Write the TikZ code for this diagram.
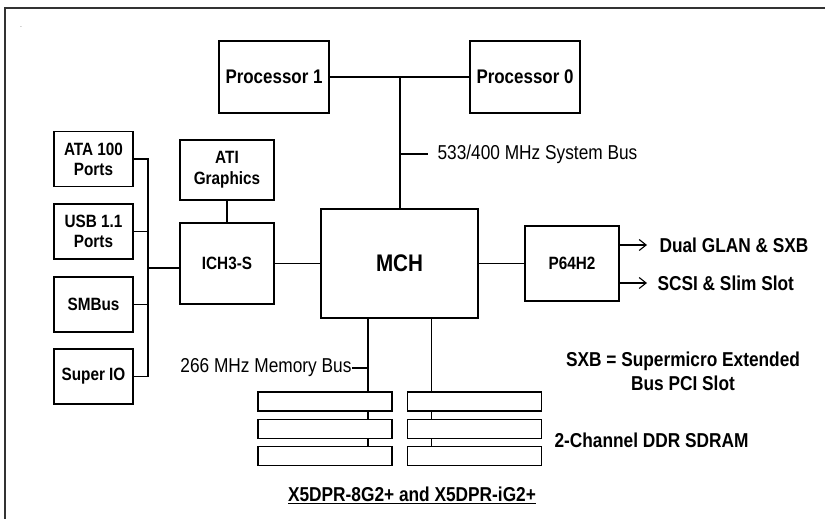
\documentclass[tikz,border=0pt]{standalone}
\usepackage{fontspec}
\setmainfont{Liberation Sans}[FakeStretch=0.86]
\usetikzlibrary{arrows.meta}
\begin{document}
\begin{tikzpicture}[x=1pt,y=-1pt,line width=1.1pt,
  box/.style={draw, inner sep=0pt, align=center, font=\bfseries\fontsize{17.8}{20}\selectfont},
  procbox/.style={box, minimum width=110pt, minimum height=72pt, font=\bfseries\fontsize{19.7}{22}\selectfont},
  sidebox/.style={box, minimum width=79pt, minimum height=55pt},
  dimm/.style={draw, inner sep=0pt, minimum width=134pt, minimum height=19pt},
  lbl/.style={inner sep=0pt, font=\fontsize{20.1}{23}\selectfont},
  blbl/.style={inner sep=0pt, font=\bfseries\fontsize{20.1}{24}\selectfont},
  arr/.style={-{Straight Barb[length=7pt,width=11pt]}}]
\useasboundingbox (0,0) rectangle (825,519);
% frame
\draw[line width=1.3pt, black!80] (5,519) -- (5,8) -- (825,8);
\node[inner sep=0pt, font=\fontsize{6}{6}\selectfont] (dot) at (21,27) {.};
% processors
\node[procbox] (p1) at (274,77) {Processor 1};
\node[procbox] (p0) at (525,77) {Processor 0};
% MCH
\node[box, minimum width=157pt, minimum height=109pt, font=\bfseries\fontsize{24}{26}\selectfont] (mch) at (399.5,263.5) {MCH};
% ICH and ATI
\node[box, minimum width=94pt, minimum height=81pt] (ich) at (227,263.5) {ICH3-S};
\node[box, minimum width=94pt, minimum height=60pt, font=\bfseries\fontsize{17.8}{21}\selectfont] (ati) at (227,170) {ATI\\Graphics};
% P64H2
\node[box, minimum width=94pt, minimum height=75pt] (p64) at (572,263.5) {P64H2};
% side boxes
\node[sidebox] (ata) at (93.5,159) {ATA 100\\Ports};
\node[sidebox] (usb) at (93.5,231.5) {USB 1.1\\Ports};
\node[sidebox] (smb) at (93.5,304.5) {SMBus};
\node[sidebox] (sio) at (93.5,376.5) {Super IO};
% DIMMs
\node[dimm] (dl1) at (325,401.5) {};
\node[dimm] (dl2) at (325,429) {};
\node[dimm] (dl3) at (325,456) {};
\node[dimm] (dr1) at (474.5,401.5) {};
\node[dimm] (dr2) at (474.5,429) {};
\node[dimm] (dr3) at (474.5,456) {};
% labels
\node[lbl, anchor=west] (sbl) at (437,154) {533/400 MHz System Bus};
\node[lbl, anchor=east] (mbl) at (352,368) {266 MHz Memory Bus};
\node[blbl, anchor=west] (glan) at (659,245) {Dual GLAN \& SXB};
\node[blbl, anchor=west] (scsi) at (657,283) {SCSI \& Slim Slot};
\node[blbl, align=center] (sxb) at (683,371) {SXB = Supermicro Extended\\Bus PCI Slot};
\node[blbl, anchor=west] (ddr) at (554,440) {2-Channel DDR SDRAM};
\node[blbl] (title) at (412,495) {\underline{X5DPR-8G2+ and X5DPR-iG2+}};
% coordinates
\coordinate (sb) at (400,154);
\coordinate (lbus) at (148,159);
\coordinate (mb) at (368,368);
% connectors
\draw (p1.east) -- (p0.west);
\draw (mch.north -| sb) -- (sb |- p1.east);
\draw (sb) -- ([xshift=-9pt]sbl.west);
\draw (ati.south) -- (ich.north);
\draw (ich.east |- mch.west) -- (mch.west);
\draw (mch.east) -- (p64.west);
\draw[arr] (p64.east |- glan.west) -- ([xshift=-12pt]glan.west);
\draw[arr] (p64.east |- scsi.west) -- ([xshift=-10pt]scsi.west);
% left bus
\draw (ata.east) -- (lbus) -- (lbus |- sio.east) -- (sio.east);
\draw (usb.east) -- (usb.east -| lbus);
\draw (smb.east) -- (smb.east -| lbus);
\draw (lbus |- 0,268) -- (ich.west |- 0,268);
% memory
\draw (mch.south -| mb) -- (dl1.north -| mb);
\draw (dl1.south -| mb) -- (dl2.north -| mb);
\draw (dl2.south -| mb) -- (dl3.north -| mb);
\draw (mb) -- (mbl.east);
\draw (mch.south -| 431.5,0) -- (dr1.north -| 431.5,0);
\draw (dr1.south -| 431.5,0) -- (dr2.north -| 431.5,0);
\draw (dr2.south -| 431.5,0) -- (dr3.north -| 431.5,0);
\end{tikzpicture}
\end{document}
